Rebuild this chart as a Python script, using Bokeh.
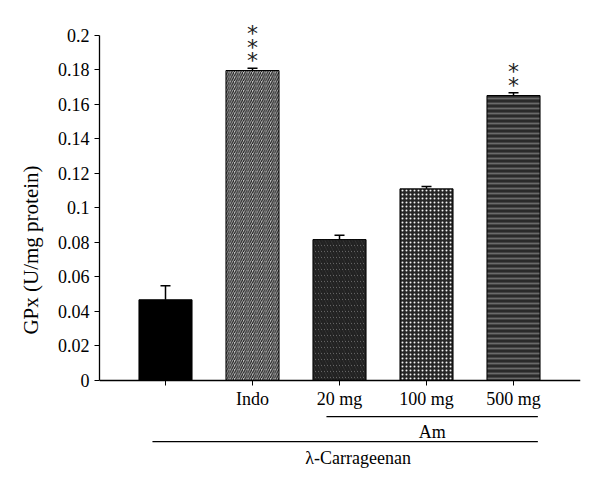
from bokeh.plotting import figure
from bokeh.models import ColumnDataSource, Range1d, FixedTicker, Whisker, TeeHead
from bokeh.core.properties import value
from bokeh.embed import file_html
from bokeh.resources import INLINE

# data
groups = ["", "Indo", "20 mg", "100 mg", "500 mg"]
gpx = [0.0468, 0.1797, 0.0817, 0.1111, 0.1652]
gpx_err = [0.0081, 0.0013, 0.0025, 0.0014, 0.0016]
stars = [0, 3, 0, 0, 2]

y_ticks = [0, 0.02, 0.04, 0.06, 0.08, 0.1, 0.12, 0.14, 0.16, 0.18, 0.2]
y_tick_labels = ["0", "0.02", "0.04", "0.06", "0.08", "0.1", "0.12", "0.14", "0.16", "0.18", "0.2"]

# treatment brackets under the axis: label, first bar, last bar
brackets = [("Am", 3, 5), ("λ-Carrageenan", 1, 5)]

# bar styles
fills = ["#000000", "#c4c4c4", "#9a9a9a", "#262626", "#2a2a2a"]
hatches = ["blank", "right_diagonal_line", "left_diagonal_line", "dot", "horizontal_line"]
hatch_colors = ["#000000", "#1a1a1a", "#222222", "#f4f4f4", "#6a6a6a"]
hatch_scales = [4, 4.5, 6, 4, 5]
hatch_weights = [1, 1.2, 2.6, 1, 1.8]

FONT = "Liberation Serif"

x = list(range(1, len(groups) + 1))
src = ColumnDataSource(data=dict(
    x=x, top=gpx, upper=[v + e for v, e in zip(gpx, gpx_err)],
    fill=fills, hatch=hatches, hcol=hatch_colors, hscale=hatch_scales, hweight=hatch_weights,
))

p = figure(width=600, height=489,
           x_range=Range1d(0.2414, 5.770), y_range=Range1d(-0.06319, 0.21449),
           output_backend="svg", toolbar_location=None,
           min_border_left=99, min_border_right=20, min_border_top=10, min_border_bottom=0)
p.outline_line_color = None
p.grid.visible = False
p.background_fill_color = "white"

p.vbar(x="x", top="top", width=0.61, source=src, fill_color="fill", line_color="black", line_width=1,
       hatch_pattern="hatch", hatch_color="hcol", hatch_scale="hscale", hatch_weight="hweight")

whisk = Whisker(base="x", lower="top", upper="upper", source=src, dimension="height",
                upper_head=TeeHead(size=10, line_width=1.5, line_color="black"), lower_head=None,
                line_width=1.5, line_color="black")
p.add_layout(whisk)

# significance stars stacked above the error bars
sx, sy, soff = [], [], []
for xi, up, n in zip(x, src.data["upper"], stars):
    for k in range(n):
        sx.append(xi)
        sy.append(up)
        soff.append(-(13 + 13.5 * k) + 5.5)
p.text(x=sx, y=sy, y_offset=soff, text=["*"] * len(sx), text_font=value("DejaVu Sans"),
       text_font_size="22px", text_align="center", text_baseline="middle", text_color="#222222")

# axes
xa = p.xaxis[0]
xa.fixed_location = 0
xa.ticker = FixedTicker(ticks=x)
xa.major_label_overrides = {xi: g for xi, g in zip(x, groups)}
xa.major_tick_out = 5
xa.major_tick_in = 0
xa.minor_tick_line_color = None
xa.major_label_standoff = 4
xa.major_label_text_font = FONT
xa.major_label_text_font_size = "18px"
xa.major_label_text_color = "black"
xa.axis_line_width = 1.3

ya = p.yaxis[0]
ya.bounds = (0, 0.2)
ya.ticker = FixedTicker(ticks=y_ticks)
ya.major_label_overrides = {t: s for t, s in zip(y_ticks, y_tick_labels)}
ya.major_tick_out = 5
ya.major_tick_in = 0
ya.minor_tick_line_color = None
ya.major_label_standoff = 5
ya.major_label_text_font = FONT
ya.major_label_text_font_size = "18px"
ya.major_label_text_color = "black"
ya.axis_line_width = 1.3
ya.axis_label = "GPx (U/mg protein)"
ya.axis_label_text_font = FONT
ya.axis_label_text_font_size = "21px"
ya.axis_label_text_font_style = "normal"
ya.axis_label_text_color = "black"
ya.axis_label_standoff = 12

# brackets below the category labels
levels = [(-0.0209, -0.0301, 0), (-0.0354, -0.0452, 13)]
bx0, bx1, by, tx, ty, tt, toff = [], [], [], [], [], [], []
for (label, first, last), (ly, lt, dx) in zip(brackets, levels):
    x0, x1 = first - 0.15, last + 0.28
    bx0.append(x0); bx1.append(x1); by.append(ly)
    tx.append((x0 + x1) / 2); ty.append(lt); tt.append(label); toff.append(dx)
p.segment(x0=bx0, y0=by, x1=bx1, y1=by, line_color="black", line_width=1.3)
p.text(x=tx, y=ty, x_offset=toff, text=tt, text_font=value(FONT), text_font_size="18px",
       text_align="center", text_baseline="middle", text_color="black")

open("out.html", "w").write(file_html(p, INLINE))
